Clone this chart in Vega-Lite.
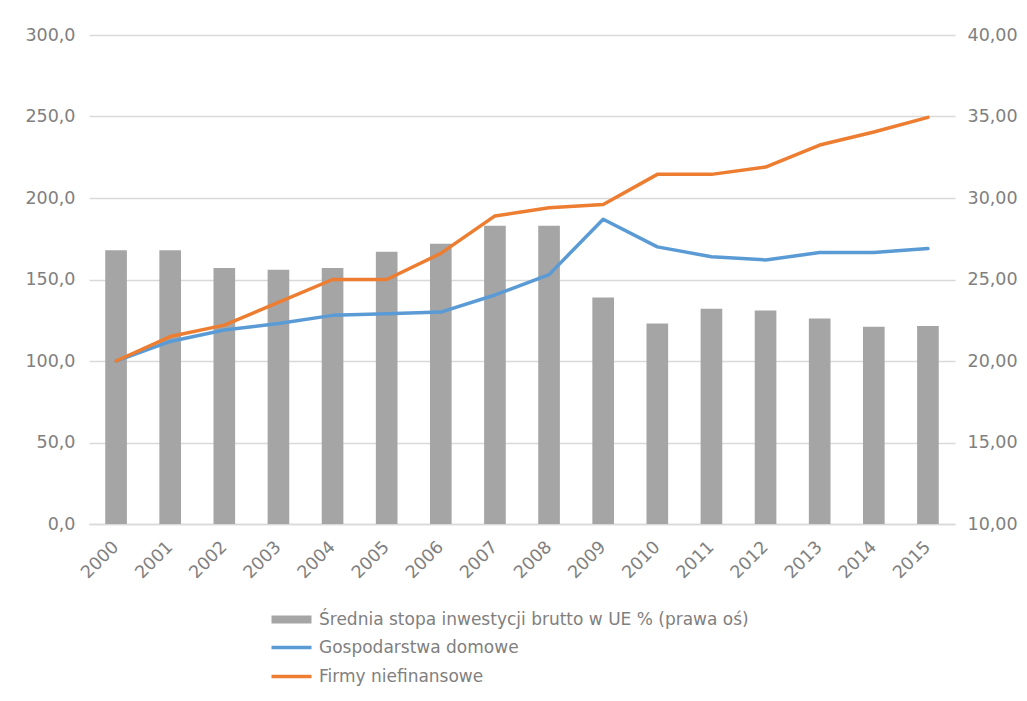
{
  "$schema": "https://vega.github.io/schema/vega-lite/v6.json",
  "width": 866,
  "height": 489,
  "autosize": {"type": "none"},
  "padding": {"left": 89, "top": 35, "right": 72, "bottom": 177},
  "background": "white",
  "config": {
    "font": "DejaVu Sans",
    "view": {"stroke": null},
    "axis": {"labelFont": "DejaVu Sans", "labelFontSize": 17.5, "labelColor": "#808080", "ticks": false, "domain": false, "grid": false, "title": null},
    "legend": {"labelFont": "DejaVu Sans", "labelFontSize": 17, "labelColor": "#808080", "title": null, "orient": "none", "labelLimit": 700}
  },
  "datasets": {
    "inwestycje": [
      {"rok": "2000", "stopa": 26.8},
      {"rok": "2001", "stopa": 26.8},
      {"rok": "2002", "stopa": 25.7},
      {"rok": "2003", "stopa": 25.6},
      {"rok": "2004", "stopa": 25.7},
      {"rok": "2005", "stopa": 26.7},
      {"rok": "2006", "stopa": 27.2},
      {"rok": "2007", "stopa": 28.3},
      {"rok": "2008", "stopa": 28.3},
      {"rok": "2009", "stopa": 23.9},
      {"rok": "2010", "stopa": 22.3},
      {"rok": "2011", "stopa": 23.2},
      {"rok": "2012", "stopa": 23.1},
      {"rok": "2013", "stopa": 22.6},
      {"rok": "2014", "stopa": 22.1},
      {"rok": "2015", "stopa": 22.15}
    ],
    "indeksy": [
      {"rok": "2000", "seria": "Gospodarstwa domowe", "wartosc": 100},
      {"rok": "2001", "seria": "Gospodarstwa domowe", "wartosc": 112},
      {"rok": "2002", "seria": "Gospodarstwa domowe", "wartosc": 119},
      {"rok": "2003", "seria": "Gospodarstwa domowe", "wartosc": 123},
      {"rok": "2004", "seria": "Gospodarstwa domowe", "wartosc": 128},
      {"rok": "2005", "seria": "Gospodarstwa domowe", "wartosc": 129},
      {"rok": "2006", "seria": "Gospodarstwa domowe", "wartosc": 130},
      {"rok": "2007", "seria": "Gospodarstwa domowe", "wartosc": 140.5},
      {"rok": "2008", "seria": "Gospodarstwa domowe", "wartosc": 153},
      {"rok": "2009", "seria": "Gospodarstwa domowe", "wartosc": 187},
      {"rok": "2010", "seria": "Gospodarstwa domowe", "wartosc": 170},
      {"rok": "2011", "seria": "Gospodarstwa domowe", "wartosc": 164},
      {"rok": "2012", "seria": "Gospodarstwa domowe", "wartosc": 162},
      {"rok": "2013", "seria": "Gospodarstwa domowe", "wartosc": 166.5},
      {"rok": "2014", "seria": "Gospodarstwa domowe", "wartosc": 166.5},
      {"rok": "2015", "seria": "Gospodarstwa domowe", "wartosc": 169},
      {"rok": "2000", "seria": "Firmy niefinansowe", "wartosc": 100},
      {"rok": "2001", "seria": "Firmy niefinansowe", "wartosc": 115},
      {"rok": "2002", "seria": "Firmy niefinansowe", "wartosc": 122},
      {"rok": "2003", "seria": "Firmy niefinansowe", "wartosc": 136},
      {"rok": "2004", "seria": "Firmy niefinansowe", "wartosc": 150},
      {"rok": "2005", "seria": "Firmy niefinansowe", "wartosc": 150},
      {"rok": "2006", "seria": "Firmy niefinansowe", "wartosc": 166},
      {"rok": "2007", "seria": "Firmy niefinansowe", "wartosc": 189},
      {"rok": "2008", "seria": "Firmy niefinansowe", "wartosc": 194},
      {"rok": "2009", "seria": "Firmy niefinansowe", "wartosc": 196},
      {"rok": "2010", "seria": "Firmy niefinansowe", "wartosc": 214.5},
      {"rok": "2011", "seria": "Firmy niefinansowe", "wartosc": 214.5},
      {"rok": "2012", "seria": "Firmy niefinansowe", "wartosc": 219},
      {"rok": "2013", "seria": "Firmy niefinansowe", "wartosc": 232.5},
      {"rok": "2014", "seria": "Firmy niefinansowe", "wartosc": 240.5},
      {"rok": "2015", "seria": "Firmy niefinansowe", "wartosc": 249.5}
    ]
  },
  "layer": [
    {
      "data": {"name": "inwestycje"},
      "mark": {"type": "bar"},
      "encoding": {
        "x": {
          "field": "rok", "type": "ordinal",
          "scale": {"paddingInner": 0.6, "paddingOuter": 0.3},
          "axis": {"labelAngle": -45, "labelAlign": "right", "labelBaseline": "middle", "labelPadding": 20, "domain": true, "domainColor": "#d9d9d9", "domainWidth": 1.5, "title": null}
        },
        "y": {
          "field": "stopa", "type": "quantitative",
          "scale": {"domain": [10, 40], "nice": false, "zero": false},
          "axis": {"orient": "right", "values": [10, 15, 20, 25, 30, 35, 40], "labelExpr": "replace(format(datum.value, '.2f'), '.', ',')", "labelPadding": 12}
        },
        "y2": {"datum": 10},
        "fill": {
          "datum": "Średnia stopa inwestycji brutto w UE % (prawa oś)",
          "scale": {"range": ["#a5a5a5"]},
          "legend": {"legendX": 178, "legendY": 576, "symbolType": "M-1,-1H9V1H-1Z", "symbolSize": 64, "symbolStrokeWidth": 0, "labelOffset": 35}
        }
      }
    },
    {
      "data": {"name": "indeksy"},
      "mark": {"type": "line", "strokeWidth": 3.5, "strokeCap": "round", "strokeJoin": "round"},
      "encoding": {
        "x": {"field": "rok", "type": "ordinal"},
        "y": {
          "field": "wartosc", "type": "quantitative",
          "scale": {"domain": [0, 300], "nice": false},
          "axis": {"orient": "left", "values": [0, 50, 100, 150, 200, 250, 300], "labelExpr": "replace(format(datum.value, '.1f'), '.', ',')", "labelPadding": 14, "grid": true, "gridColor": "#d9d9d9", "gridWidth": 1.5}
        },
        "stroke": {
          "field": "seria", "type": "nominal",
          "scale": {"domain": ["Gospodarstwa domowe", "Firmy niefinansowe"], "range": ["#5b9bd5", "#ed7d31"]},
          "legend": {"legendX": 178, "legendY": 604, "symbolType": "M-1,0H9", "symbolSize": 64, "symbolStrokeWidth": 3.5, "labelOffset": 35, "rowPadding": 11}
        }
      }
    }
  ],
  "resolve": {"scale": {"y": "independent"}}
}
